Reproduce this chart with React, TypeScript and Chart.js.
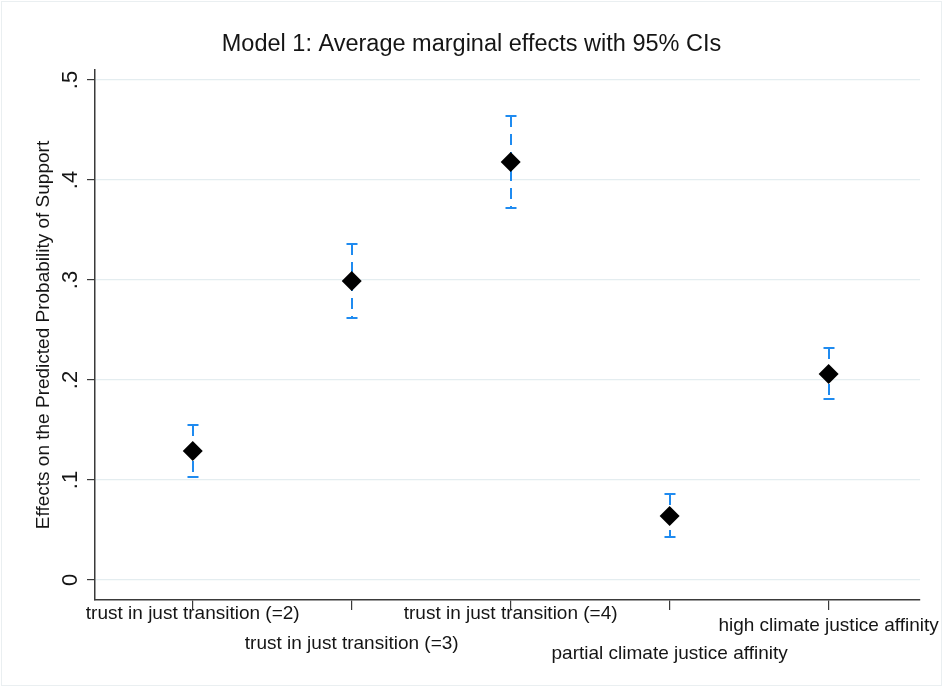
import React, { useEffect, useRef } from "react";
import { Chart, registerables } from "chart.js";

Chart.register(...registerables);

// ---- data ----
const categories = [
  "trust in just transition (=2)",
  "trust in just transition (=3)",
  "trust in just transition (=4)",
  "partial climate justice affinity",
  "high climate justice affinity",
];
const estimates = [0.129, 0.299, 0.418, 0.064, 0.206];
const lowerCI = [0.103, 0.262, 0.372, 0.043, 0.181];
const upperCI = [0.155, 0.336, 0.464, 0.086, 0.232];
const yTickValues = [0, 0.1, 0.2, 0.3, 0.4, 0.5];
const yTickLabels = ["0", ".1", ".2", ".3", ".4", ".5"];
const titleText = "Model 1: Average marginal effects with 95% CIs";
const yTitleText = "Effects on the Predicted Probability of Support";

// ---- style ----
const W = 943;
const H = 687;
const FONT = "'Liberation Sans', Arial, sans-serif";
const TEXT = "#151515";
const CI_BLUE = "#1f8bf0";
const AXIS = "#3a3a3a";
const GRID = "#e4edf0";
const labelRowY = [614, 644, 614, 654, 626];

const decorPlugin = {
  id: "decor",
  beforeDatasetsDraw(chart: any) {
    const ctx = chart.ctx;
    const xs = chart.scales.x;
    const ys = chart.scales.y;
    ctx.save();
    ctx.strokeStyle = CI_BLUE;
    ctx.lineWidth = 2;
    categories.forEach((_, i) => {
      const x = Math.round(xs.getPixelForValue(i + 1));
      const yHi = ys.getPixelForValue(upperCI[i]);
      const yLo = ys.getPixelForValue(lowerCI[i]);
      ctx.setLineDash([11, 7]);
      ctx.beginPath();
      ctx.moveTo(x, yHi);
      ctx.lineTo(x, yLo);
      ctx.stroke();
      ctx.setLineDash([]);
      ctx.beginPath();
      ctx.moveTo(x - 5.5, yHi);
      ctx.lineTo(x + 5.5, yHi);
      ctx.moveTo(x - 5.5, yLo);
      ctx.lineTo(x + 5.5, yLo);
      ctx.stroke();
    });
    ctx.restore();
  },
  afterDraw(chart: any) {
    const ctx = chart.ctx;
    const xs = chart.scales.x;
    const ys = chart.scales.y;
    const area = chart.chartArea;
    ctx.save();
    ctx.strokeStyle = "#eaeff1";
    ctx.lineWidth = 1;
    ctx.strokeRect(1.5, 1.5, W - 3, H - 3);

    ctx.fillStyle = TEXT;
    ctx.font = `23.5px ${FONT}`;
    ctx.textAlign = "center";
    ctx.textBaseline = "middle";
    ctx.fillText(titleText, W / 2, 45);

    ctx.save();
    ctx.font = `19px ${FONT}`;
    ctx.translate(44, (area.top + area.bottom) / 2);
    ctx.rotate(-Math.PI / 2);
    ctx.fillText(yTitleText, 0, 0);
    ctx.restore();

    ctx.font = `22px ${FONT}`;
    yTickValues.forEach((v, i) => {
      const y = ys.getPixelForValue(v);
      ctx.save();
      ctx.translate(71, y);
      ctx.rotate(-Math.PI / 2);
      ctx.fillText(yTickLabels[i], 0, 0);
      ctx.restore();
    });

    ctx.font = `19px ${FONT}`;
    categories.forEach((c, i) => {
      const x = xs.getPixelForValue(i + 1);
      ctx.fillText(c, x, labelRowY[i]);
    });
    ctx.restore();
  },
};

export default function App() {
  const ref = useRef<HTMLCanvasElement | null>(null);
  useEffect(() => {
    document.body.style.margin = "0";
    const canvas = ref.current!;
    const chart = new Chart(canvas, {
      type: "scatter",
      data: {
        datasets: [
          {
            data: categories.map((_, i) => ({ x: i + 1, y: estimates[i] })),
            pointStyle: "rectRot",
            pointRadius: 10,
            pointHoverRadius: 10,
            backgroundColor: "#000",
            borderColor: "#000",
            borderWidth: 0,
          },
        ],
      },
      options: {
        animation: false,
        responsive: false,
        devicePixelRatio: 1,
        layout: { padding: { top: 70, right: 23, left: 0, bottom: 0 } },
        plugins: {
          legend: { display: false },
          title: { display: false },
          tooltip: { enabled: false },
        },
        events: [],
        scales: {
          x: {
            type: "linear",
            min: 0.385,
            max: 5.575,
            afterBuildTicks: (s: any) => {
              s.ticks = categories.map((_, i) => ({ value: i + 1 }));
            },
            afterFit: (s: any) => {
              s.height = 87;
            },
            ticks: { display: false },
            grid: {
              drawOnChartArea: false,
              drawTicks: true,
              tickLength: 10,
              tickColor: AXIS,
              color: AXIS,
              lineWidth: 1.2,
            },
            border: { color: AXIS, width: 1.5 },
          },
          y: {
            type: "linear",
            min: -0.02,
            max: 0.51,
            afterBuildTicks: (s: any) => {
              s.ticks = yTickValues.map((v) => ({ value: v }));
            },
            afterFit: (s: any) => {
              s.width = 95;
            },
            ticks: { display: false },
            grid: {
              color: GRID,
              lineWidth: 1.2,
              drawTicks: true,
              tickLength: 8,
              tickColor: AXIS,
            },
            border: { color: AXIS, width: 1.5 },
          },
        },
      },
      plugins: [decorPlugin],
    });
    return () => chart.destroy();
  }, []);
  return <canvas ref={ref} width={W} height={H} style={{ display: "block" }} />;
}
